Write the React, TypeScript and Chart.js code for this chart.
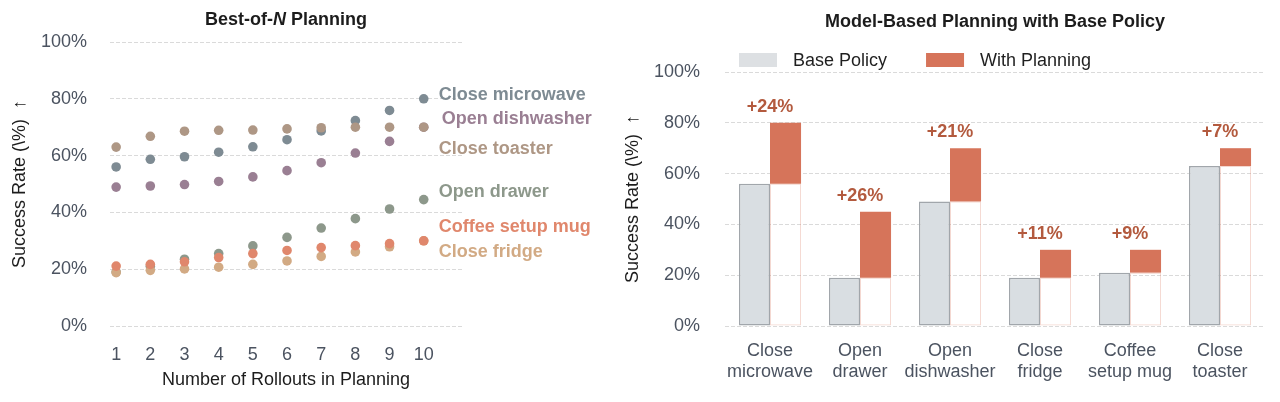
import React, { useEffect, useRef } from "react";
import { Chart, registerables } from "chart.js";

Chart.register(...registerables);

const FONT = '"Liberation Sans", Arial, Helvetica, sans-serif';
Chart.defaults.font.family = FONT;

// ---------- Left chart data ----------
const rollouts = [1, 2, 3, 4, 5, 6, 7, 8, 9, 10];
const closeMicrowave = [56.0, 58.7, 59.6, 61.2, 63.1, 65.6, 68.7, 72.3, 75.9, 80.0];
const openDishwasher = [48.9, 49.3, 49.8, 50.9, 52.5, 54.7, 57.5, 60.9, 65.0, 70.0];
const closeToaster = [63.0, 66.8, 68.6, 68.9, 69.0, 69.4, 69.8, 70.0, 70.0, 70.0];
const openDrawer = [19.0, 21.0, 23.5, 25.5, 28.2, 31.2, 34.5, 37.8, 41.2, 44.5];
const closeFridge = [18.8, 19.6, 20.1, 20.7, 21.7, 22.9, 24.5, 26.1, 27.9, 30.0];
const coffeeSetupMug = [21.1, 21.7, 22.6, 24.1, 25.5, 26.6, 27.6, 28.3, 29.0, 30.0];
const percentTicks = [0, 20, 40, 60, 80, 100];

// ---------- Right chart data ----------
const taskLabels = [
  ["Close", "microwave"],
  ["Open", "drawer"],
  ["Open", "dishwasher"],
  ["Close", "fridge"],
  ["Coffee", "setup mug"],
  ["Close", "toaster"],
];
const basePolicy = [56, 19, 49, 19, 21, 63];
const withPlanning = [80, 45, 70, 30, 30, 70];

// series styling (later entries are drawn on top)
const leftSeries = [
  { name: "Close microwave", values: closeMicrowave, color: "#7e8b93" },
  { name: "Open dishwasher", values: openDishwasher, color: "#9a7f93" },
  { name: "Close toaster", values: closeToaster, color: "#ae9785" },
  { name: "Open drawer", values: openDrawer, color: "#8d988b" },
  { name: "Close fridge", values: closeFridge, color: "#d2aa84" },
  { name: "Coffee setup mug", values: coffeeSetupMug, color: "#e0876c" },
];

// label anchor (in axis units) for the end-of-series labels
const seriesLabelLayout: Record<string, { y: number; dx: number }> = {
  "Close microwave": { y: 81.3, dx: 0 },
  "Open dishwasher": { y: 72.8, dx: 3 },
  "Close toaster": { y: 62.3, dx: 0 },
  "Open drawer": { y: 47.1, dx: 0 },
  "Coffee setup mug": { y: 34.8, dx: 0 },
  "Close fridge": { y: 26.2, dx: 0 },
};

const TICK_COLOR = "#4b5360";
const TITLE_COLOR = "#1c1c1c";
const GRID_COLOR = "#dadada";
const ORANGE = "#d6745a";
const GAIN_COLOR = "#b35a3e";

const leftTitlePlugin = {
  id: "leftTitle",
  afterDraw(chart: any) {
    const { ctx, chartArea } = chart;
    const parts = [
      { t: "Best-of-", f: `bold 18px ${FONT}` },
      { t: "N", f: `italic bold 18px ${FONT}` },
      { t: " Planning", f: `bold 18px ${FONT}` },
    ];
    ctx.save();
    let total = 0;
    const widths = parts.map((p) => {
      ctx.font = p.f;
      const w = ctx.measureText(p.t).width;
      total += w;
      return w;
    });
    let x = (chartArea.left + chartArea.right) / 2 - total / 2;
    ctx.textBaseline = "middle";
    ctx.textAlign = "left";
    ctx.fillStyle = TITLE_COLOR;
    parts.forEach((p, i) => {
      ctx.font = p.f;
      ctx.fillText(p.t, x, 20);
      x += widths[i];
    });
    ctx.restore();
  },
};

const seriesLabelPlugin = {
  id: "seriesLabels",
  afterDatasetsDraw(chart: any) {
    const { ctx, scales } = chart;
    const xs = scales.x;
    const ys = scales.y;
    const baseX = xs.getPixelForValue(rollouts[rollouts.length - 1]) + 15;
    ctx.save();
    ctx.font = `bold 18px ${FONT}`;
    ctx.textBaseline = "middle";
    ctx.textAlign = "left";
    leftSeries.forEach((s) => {
      const l = seriesLabelLayout[s.name];
      ctx.fillStyle = s.color;
      ctx.fillText(s.name, baseX + l.dx, ys.getPixelForValue(l.y));
    });
    ctx.restore();
  },
};

const rightLegendPlugin = {
  id: "rightLegend",
  afterDraw(chart: any) {
    const { ctx, chartArea } = chart;
    const items = chart.data.datasets.filter((d: any) => !String(d.label).startsWith("_"));
    ctx.save();
    ctx.font = `18px ${FONT}`;
    ctx.textBaseline = "middle";
    ctx.textAlign = "left";
    let x = chartArea.left + 14;
    const yc = 60;
    items.forEach((d: any) => {
      ctx.fillStyle = d.legendColor || d.backgroundColor;
      ctx.fillRect(x, yc - 7, 38, 14);
      x += 38 + 16;
      ctx.fillStyle = "#1f1f1f";
      ctx.fillText(d.label, x, yc + 1);
      x += ctx.measureText(d.label).width + 39;
    });
    ctx.restore();
  },
};

const gainLabelPlugin = {
  id: "gainLabels",
  afterDatasetsDraw(chart: any) {
    const { ctx, scales } = chart;
    ctx.save();
    ctx.font = `bold 18px ${FONT}`;
    ctx.textBaseline = "middle";
    ctx.textAlign = "center";
    ctx.fillStyle = GAIN_COLOR;
    withPlanning.forEach((v, i) => {
      const x = scales.x.getPixelForValue(i);
      const y = scales.y.getPixelForValue(v) - 16;
      ctx.fillText(`+${v - basePolicy[i]}%`, x, y);
    });
    ctx.restore();
  },
};

function yAxis(width: number, titlePad: number, tickPad: number) {
  return {
    min: 0,
    max: 100,
    afterBuildTicks: (s: any) => {
      s.ticks = percentTicks.map((v) => ({ value: v }));
    },
    afterFit: (s: any) => {
      s.width = width;
    },
    ticks: {
      callback: (v: any) => `${v}%`,
      color: TICK_COLOR,
      font: { size: 18 },
      padding: tickPad,
    },
    grid: { color: GRID_COLOR, lineWidth: 1, drawTicks: false },
    border: { display: false, dash: [4, 2] },
    title: {
      display: true,
      text: "Success Rate (\\%)  \u2191",
      color: TITLE_COLOR,
      font: { size: 18 },
      padding: { top: titlePad, bottom: 0 },
    },
  };
}

export default function App() {
  const leftRef = useRef<HTMLCanvasElement | null>(null);
  const rightRef = useRef<HTMLCanvasElement | null>(null);

  useEffect(() => {
    if (!leftRef.current || !rightRef.current) return;

    const left = new Chart(leftRef.current, {
      type: "scatter",
      data: {
        datasets: leftSeries.map((s, i) => ({
          label: s.name,
          data: rollouts.map((x, j) => ({ x, y: s.values[j] })),
          backgroundColor: s.color,
          borderWidth: 0,
          pointRadius: 4.8,
          pointHoverRadius: 4.8,
          order: leftSeries.length - i,
        })),
      },
      options: {
        animation: false,
        responsive: false,
        devicePixelRatio: 1,
        layout: { padding: { left: 0, right: 158, top: 42, bottom: 0 } },
        plugins: { legend: { display: false }, tooltip: { enabled: false } },
        scales: {
          x: {
            type: "linear",
            min: 0.82,
            max: 11.12,
            afterBuildTicks: (s: any) => {
              s.ticks = rollouts.map((v) => ({ value: v }));
            },
            afterFit: (s: any) => {
              s.height = 76;
            },
            ticks: { color: TICK_COLOR, font: { size: 18 }, padding: 18, maxRotation: 0, minRotation: 0 },
            grid: { display: false, drawTicks: false },
            border: { display: false },
            title: {
              display: true,
              text: "Number of Rollouts in Planning",
              color: TITLE_COLOR,
              font: { size: 18 },
              padding: { top: 0, bottom: 11 },
            },
          },
          y: yAxis(110, 9, 23) as any,
        },
      },
      plugins: [leftTitlePlugin, seriesLabelPlugin],
    } as any);

    const right = new Chart(rightRef.current, {
      type: "bar",
      data: {
        labels: taskLabels,
        datasets: [
          {
            label: "Base Policy",
            data: basePolicy,
            stack: "base",
            backgroundColor: "#d9dee2",
            legendColor: "#dde0e3",
            borderColor: "#a1a6ab",
            borderWidth: 1.5,
            borderSkipped: false,
          },
          {
            label: "_planLower",
            data: basePolicy,
            stack: "plan",
            backgroundColor: "rgba(255,255,255,0)",
            borderColor: "rgba(214,116,90,0.28)",
            borderWidth: 1,
            borderSkipped: false,
          },
          {
            label: "With Planning",
            data: withPlanning.map((v, i) => v - basePolicy[i]),
            stack: "plan",
            backgroundColor: ORANGE,
            borderWidth: 0,
          },
        ],
      },
      options: {
        animation: false,
        responsive: false,
        devicePixelRatio: 1,
        layout: { padding: { left: 0, right: 15, top: 0, bottom: 0 } },
        datasets: { bar: { categoryPercentage: 0.69, barPercentage: 1.0 } },
        plugins: {
          legend: { display: false },
          tooltip: { enabled: false },
          title: {
            display: true,
            fullSize: false,
            text: "Model-Based Planning with Base Policy",
            color: TITLE_COLOR,
            font: { size: 18, weight: "bold" },
            padding: { top: 11.2, bottom: 39.2 },
          },
        },
        scales: {
          x: {
            stacked: true,
            afterFit: (s: any) => {
              s.height = 76;
            },
            ticks: {
              color: TICK_COLOR,
              font: { size: 18 },
              padding: 14,
              maxRotation: 0,
              minRotation: 0,
              autoSkip: false,
            },
            grid: { display: false, drawTicks: false },
            border: { display: false },
          },
          y: { ...(yAxis(105, 2, 25) as any), stacked: true },
        },
      },
      plugins: [rightLegendPlugin, gainLabelPlugin],
    } as any);

    return () => {
      left.destroy();
      right.destroy();
    };
  }, []);

  return (
    <div
      style={{
        position: "fixed",
        left: 0,
        top: 0,
        width: 1280,
        height: 402,
        background: "#ffffff",
        overflow: "hidden",
      }}
    >
      <canvas
        ref={leftRef}
        width={620}
        height={402}
        style={{ position: "absolute", left: 0, top: 0, width: 620, height: 402 }}
      />
      <canvas
        ref={rightRef}
        width={660}
        height={402}
        style={{ position: "absolute", left: 620, top: 0, width: 660, height: 402 }}
      />
    </div>
  );
}
